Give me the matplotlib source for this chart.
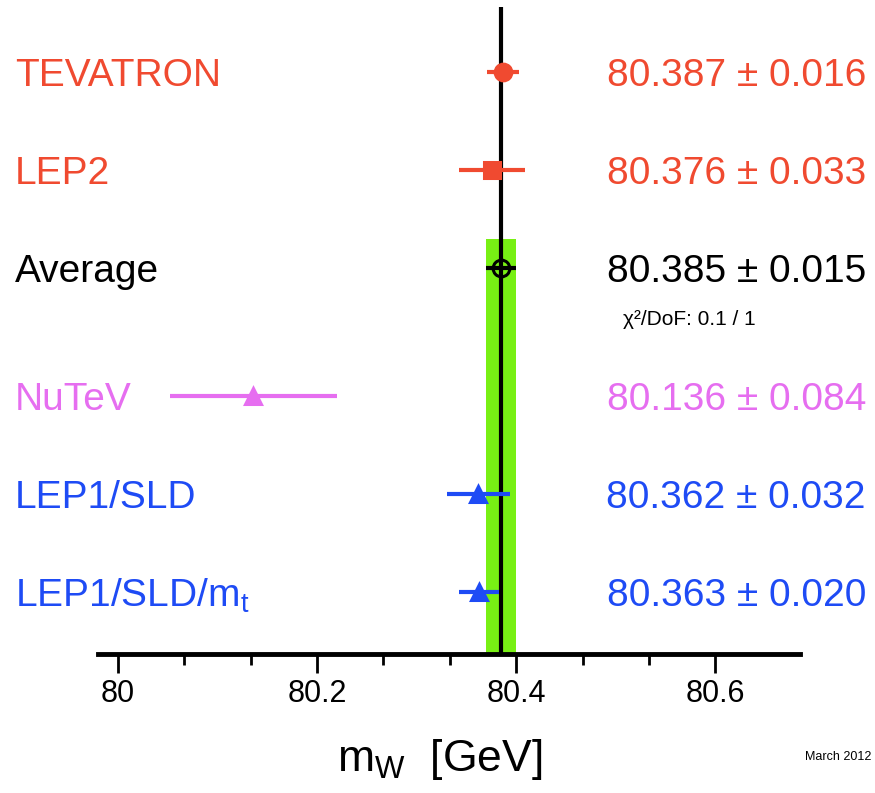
import numpy as np
import matplotlib
matplotlib.use("Agg")
import matplotlib.pyplot as plt
import matplotlib.transforms as mtransforms

plt.rcParams['font.family'] = ['Liberation Sans', 'DejaVu Sans']
plt.rcParams['mathtext.fontset'] = 'custom'
plt.rcParams['mathtext.rm'] = 'Liberation Sans'
plt.rcParams['mathtext.default'] = 'regular'

# W mass measurements (GeV)
labels = ["TEVATRON", "LEP2", "Average", "NuTeV", "LEP1/SLD", "LEP1/SLD/m$_t$"]
values = [80.387, 80.376, 80.385, 80.136, 80.362, 80.363]
errors = [0.016, 0.033, 0.015, 0.084, 0.032, 0.020]
avg_value = 80.385
avg_error = 0.015
chi2_text = "χ²/DoF: 0.1 / 1"
tick_values = [80.0, 80.2, 80.4, 80.6]
tick_labels = ["80", "80.2", "80.4", "80.6"]

red = "#F04A30"
blue = "#1E4BF5"
colors = [red, red, "black", "#E66EF0", blue, blue]
markers = ["o", "s", "o", "^", "^", "^"]
filled = [True, True, False, True, True, True]

# row positions, with an extra gap below the average
idx = np.arange(len(labels))
rows = idx + np.where(idx >= 3, 0.31, 0.0)

fig = plt.figure(figsize=(8.75, 7.93), dpi=100)
ax = fig.add_axes([98 / 875, 139 / 793, 702 / 875, 647 / 793])
ax.set_xlim(79.980, 80.685)
ax.set_ylim(5.94, -0.66)

# average band and line
ax.fill_betweenx([1.71, 5.94], avg_value - avg_error, avg_value + avg_error,
                 color="#78F014", lw=0, zorder=1)
ax.axvline(avg_value, color="black", lw=3, zorder=2)

for y, v, e, c, m, f in zip(rows, values, errors, colors, markers, filled):
    ax.errorbar(v, y, xerr=e, fmt=m, color=c, ms=12, elinewidth=3, capsize=0,
                mfc=c if f else "none", mec=c, mew=2.2, zorder=3)

# labels and values sit in figure x, row y
trans = mtransforms.blended_transform_factory(fig.transFigure, ax.transData)
for y, lab, c in zip(rows, labels, colors):
    ax.text(15 / 875, y + 0.04, lab, transform=trans, color=c, fontsize=28,
            ha="left", va="center")
for y, v, e, c in zip(rows, values, errors, colors):
    ax.text(866 / 875, y + 0.04, f"{v:.3f} ± {e:.3f}", transform=trans, color=c,
            fontsize=28, ha="right", va="center")
ax.text(623 / 875, rows[2] + 0.53, chi2_text, transform=trans, fontsize=15,
        ha="left", va="center")

for s in ["top", "left", "right"]:
    ax.spines[s].set_visible(False)
ax.spines["bottom"].set_linewidth(3.5)
ax.set_yticks([])
ax.set_xticks(tick_values)
ax.set_xticklabels(tick_labels)
ax.set_xticks(np.linspace(80.0, 80.6, 10), minor=True)
ax.tick_params(axis="x", which="major", direction="out", length=14, width=2,
               labelsize=22, pad=4)
ax.tick_params(axis="x", which="minor", direction="out", length=8, width=2)

fig.text(440 / 875, 33 / 793, "m$_W$  [GeV]", fontsize=32, ha="center", va="center")
fig.text(838 / 875, 36 / 793, "March 2012", fontsize=9, ha="center", va="center")

fig.savefig("out.png", dpi=100)
